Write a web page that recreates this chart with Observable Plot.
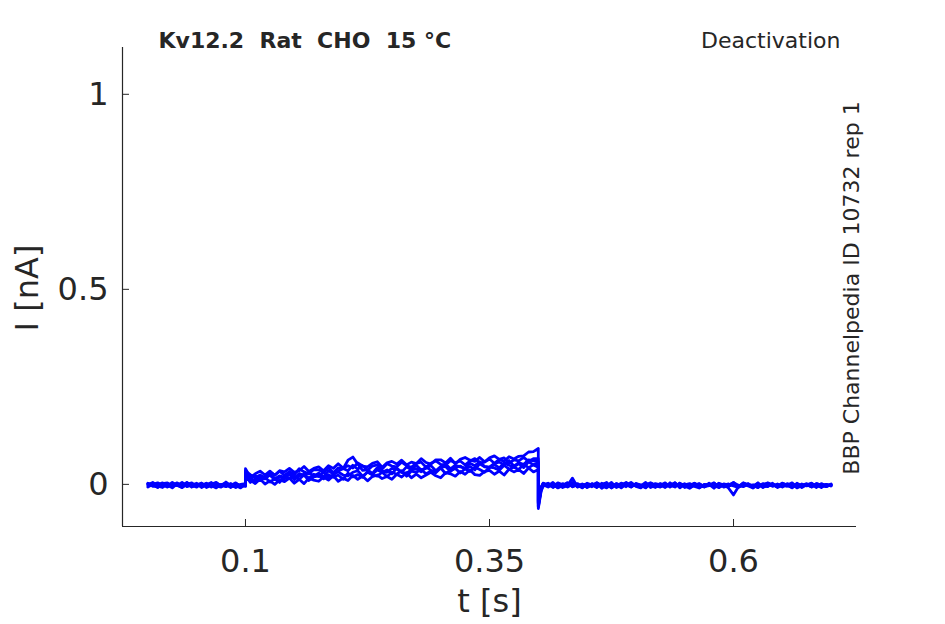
<!DOCTYPE html>
<html><head><meta charset="utf-8">
<script src="https://cdn.jsdelivr.net/npm/d3@7"></script>
<script src="https://cdn.jsdelivr.net/npm/@observablehq/plot@0.6"></script>
<style>html,body{margin:0;padding:0;background:#fff;} #chart svg{display:block}</style>
</head><body><div id="chart"></div>
<script>
// sample times [s]
const time = [
  0,0.005,0.01,0.015,0.02,0.025,0.03,0.035,0.04,0.045,0.05,0.055,0.06,0.065,0.07,0.075,0.08,0.085,0.09,0.095,0.1,
  0.1,0.105,0.11,0.115,0.12,0.125,0.13,0.135,0.14,0.145,0.15,0.155,0.16,0.165,0.17,0.175,0.18,0.185,0.19,0.195,
  0.2,0.205,0.21,0.215,0.22,0.225,0.23,0.235,0.24,0.245,0.25,0.255,0.26,0.265,0.27,0.275,0.28,0.285,0.29,0.295,
  0.3,0.305,0.31,0.315,0.32,0.325,0.33,0.335,0.34,0.345,0.35,0.355,0.36,0.365,0.37,0.375,0.38,0.385,0.39,0.395,0.4,
  0.4,0.403,0.405,0.41,0.415,0.42,0.425,0.43,0.435,0.44,0.445,0.45,0.455,0.46,0.465,0.47,0.475,0.48,0.485,0.49,0.495,
  0.5,0.505,0.51,0.515,0.52,0.525,0.53,0.535,0.54,0.545,0.55,0.555,0.56,0.565,0.57,0.575,0.58,0.585,0.59,0.595,
  0.6,0.605,0.61,0.615,0.62,0.625,0.63,0.635,0.64,0.645,0.65,0.655,0.66,0.665,0.67,0.675,0.68,0.685,0.69,0.695,0.7
];
// current traces in pA
const trace1 = [
  -4,3,-8,1,-2,-9,2,-5,4,-7,-1,-6,3,-3,-9,0,-5,2,-8,-2,-4,
  14,11,2,14,1,9,0,12,7,16,3,13,2,16,11,8,19,11,22,8,16,
  10,23,13,21,9,20,24,15,20,13,26,19,30,17,26,17,24,31,22,17,
  30,27,21,33,26,37,25,23,33,36,26,34,24,39,32,38,28,42,32,38,
  -48,-14,-1,-7,2,-9,-3,4,-6,0,-8,1,-4,3,-10,-2,-6,2,-7,-1,5,-5,
  -9,0,-3,-8,2,-5,-1,-7,3,-4,-10,-2,1,-6,-3,4,-8,-1,-5,2,
  -7,0,-4,-9,1,-3,-6,3,-8,-2,-5,1,-9,-3,2,-6,-1,-8,0,-4
];
const trace2 = [
  2,-5,-1,4,-7,0,-3,5,-6,-2,3,-8,-1,2,-4,-7,1,-3,4,-6,-1,
  22,5,14,10,18,6,15,5,19,15,21,13,24,10,19,22,14,25,18,24,13,
  29,19,25,18,32,24,21,31,20,31,26,35,21,34,31,38,27,34,30,42,
  28,36,41,29,40,33,44,38,31,44,42,36,49,39,44,38,52,43,50,44,
  -56,-9,3,-5,-1,-8,2,-4,5,-7,-2,1,-6,4,-3,-9,0,-5,3,-1,-7,2,
  -4,5,-8,-2,1,-6,-3,4,-9,0,-5,2,-1,-7,3,-4,-8,1,-2,5,
  -6,-3,2,-9,0,-5,4,-1,-7,1,-3,-8,3,-4,0,-6,2,-2,-5,1
];
const trace3 = [
  -7,0,4,-3,-6,2,-1,-8,3,-4,1,-5,-2,5,-7,-1,3,-6,0,-3,-5,
  30,17,7,21,14,24,12,19,14,26,12,22,26,16,26,20,32,17,25,32,24,
  22,31,35,21,31,26,37,31,37,27,42,31,28,38,40,32,45,36,33,43,
  46,33,43,47,39,46,37,53,45,43,51,42,55,49,45,53,43,58,50,55,
  -62,-16,-5,2,-8,0,-3,4,-6,-1,-9,3,-2,-7,1,-4,5,-8,-3,0,-6,2,
  -1,-9,3,-5,-2,4,-7,0,-4,1,-8,-3,2,-6,0,-10,3,-2,-5,1,
  -7,4,-3,-1,-8,2,-5,0,-6,3,-2,-9,1,-4,-1,-7,2,-3,-6,0
];
const trace4 = [
  3,-2,-6,1,-4,5,-3,-8,0,4,-5,-1,2,-7,3,-2,-6,1,-3,-9,0,
  26,15,23,10,22,25,14,22,18,30,16,28,23,31,21,29,19,35,26,34,40,
  62,70,52,36,37,28,43,34,31,41,39,31,45,37,49,37,41,48,35,46,
  52,40,49,45,42,54,48,58,46,44,54,57,50,61,47,56,51,63,60,58,
  -50,-8,2,-4,5,-7,0,-3,16,-6,1,-8,-2,4,-5,-1,-9,2,-3,5,-6,0,
  -4,-8,3,-2,-6,1,-5,4,-7,-1,2,-5,-9,0,-3,3,-6,-2,1,-4,
  -8,2,-1,-5,4,-7,-3,0,-6,3,-2,-4,1,-8,-1,3,-5,-2,0,-4
];
const trace5 = [
  -1,5,-4,-8,2,-3,4,-6,1,-2,-7,3,-4,0,5,-5,-1,-8,2,-3,1,
  34,25,17,24,16,31,24,34,23,33,25,40,32,27,38,37,31,43,30,42,41,
  35,49,39,48,36,47,50,39,53,47,45,57,48,44,54,57,44,54,60,51,
  50,61,55,60,50,60,66,55,57,65,54,64,68,54,63,60,69,59,66,66,
  -58,-11,-2,3,-6,1,-8,-3,4,-5,0,-7,2,-4,-1,5,-9,-2,1,-6,3,-3,
  -7,0,-5,2,-1,-8,4,-4,-2,1,-6,3,-9,-1,0,-5,2,-7,-3,4,
  -2,-6,1,-4,-8,0,3,-5,-1,-7,2,-3,-6,1,-4,0,-8,2,-5,-1
];
const trace6 = [
  1,-3,-7,2,4,-5,0,-2,5,-6,-1,3,-8,-2,1,-4,6,-3,-7,0,2,
  40,18,27,34,24,34,23,35,32,41,31,35,46,33,41,45,35,48,41,53,42,
  48,42,55,47,45,54,58,44,55,59,52,62,50,57,53,66,56,52,63,63,
  55,67,53,64,69,62,59,69,58,68,73,64,59,71,65,72,73,83,84,92,
  -44,-6,3,-2,-6,4,-1,-7,0,2,-5,-3,1,-8,3,-2,-5,0,-9,2,-4,1,
  -6,-1,4,-3,-7,0,-2,-5,3,-8,-1,2,-4,-6,1,-3,-5,0,-10,-27,
  -6,3,-1,-4,2,-8,0,-3,1,-5,-2,4,-7,-1,-3,2,-6,0,-4,-2
];
const traces = [trace1, trace2, trace3, trace4, trace5, trace6];

const xTicks = [0.1, 0.35, 0.6];
const yTicks = [0, 0.5, 1];
const xDomain = [-0.026, 0.726];
const yDomain = [-0.108, 1.12];
const titleText = "Kv12.2  Rat  CHO  15 °C";
const protocolText = "Deactivation";
const sourceText = "BBP Channelpedia ID 10732 rep 1";
const xLabel = "t [s]";
const yLabel = "I [nA]";

const n = time.length;
const rows = traces.flatMap((vals, k) =>
  vals.slice(0, n).map((v, i) => ({trace: k, t: time[i], I: v / 1000})));

const W = 945, H = 624, mL = 122, mR = 89, mT = 47, mB = 98;
const ink = "#262626";

const chart = Plot.plot({
  width: W, height: H,
  marginLeft: mL, marginRight: mR, marginTop: mT, marginBottom: mB,
  x: {domain: xDomain},
  y: {domain: yDomain},
  style: {fontFamily: "'DejaVu Sans', sans-serif", color: ink, background: "#fff", overflow: "visible"},
  marks: [
    Plot.line(rows, {x: "t", y: "I", z: "trace", stroke: "#0000ff", strokeWidth: 2.8, strokeLinejoin: "round"}),
    Plot.ruleX([xDomain[0]], {stroke: ink, strokeWidth: 1.2}),
    Plot.ruleY([yDomain[0]], {stroke: ink, strokeWidth: 1.2}),
    Plot.tickX(xTicks, {x: d => d, stroke: ink, insetTop: H - mT - mB - 7}),
    Plot.tickY(yTicks, {y: d => d, stroke: ink, insetRight: W - mL - mR - 7}),
    Plot.axisX(xTicks, {tickSize: 0, tickPadding: 23, fontSize: 32, label: null, tickFormat: d => String(d)}),
    Plot.axisY(yTicks, {tickSize: 0, tickPadding: 14, fontSize: 32, label: null, tickFormat: d => String(d)}),
    Plot.text([xLabel], {text: d => d, frameAnchor: "bottom", dy: 85, textAnchor: "middle", lineAnchor: "bottom", fontSize: 32}),
    Plot.text([yLabel], {text: d => d, frameAnchor: "left", dx: -85, dy: 1, rotate: -90, textAnchor: "middle", lineAnchor: "bottom", fontSize: 32}),
    Plot.text([titleText], {text: d => d, frameAnchor: "top-left", dx: 36, dy: 0, textAnchor: "start", lineAnchor: "bottom", fontSize: 22, fontWeight: "bold"}),
    Plot.text([protocolText], {text: d => d, frameAnchor: "top-right", dx: -16, dy: 0, textAnchor: "end", lineAnchor: "bottom", fontSize: 22}),
    Plot.text([sourceText], {text: d => d, frameAnchor: "right", dx: 2, dy: 1, rotate: -90, textAnchor: "middle", lineAnchor: "bottom", fontSize: 22})
  ]
});
document.getElementById("chart").appendChild(chart);
</script>
</body></html>
